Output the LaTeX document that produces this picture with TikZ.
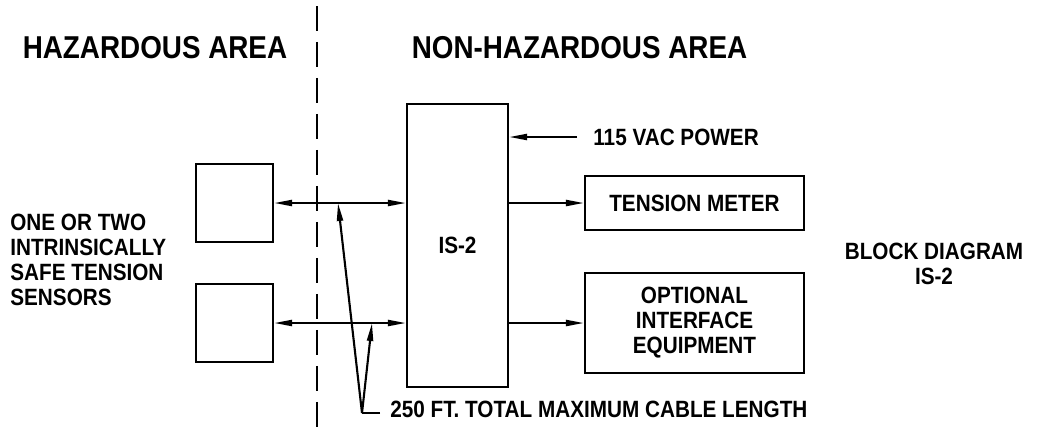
\documentclass[tikz,border=0pt]{standalone}
\usepackage{fontspec}
\setmainfont[FakeStretch=0.88]{Liberation Sans}
\usetikzlibrary{arrows.meta, positioning}

\begin{document}
\begin{tikzpicture}[x=0.02cm, y=-0.02cm,
  box/.style={draw, line width=1.2pt, inner sep=0pt, align=center,
              font=\bfseries\fontsize{13.4}{14.2}\selectfont},
  lbl/.style={inner sep=0pt, align=left,
              font=\bfseries\fontsize{13.4}{14.2}\selectfont},
  ttl/.style={inner sep=0pt, font=\bfseries\fontsize{18}{21}\selectfont},
  sig/.style={-{Triangle[length=0.36cm, width=0.12cm]}, line width=1.2pt},
  both/.style={{Triangle[length=0.36cm, width=0.12cm]}-{Triangle[length=0.36cm, width=0.12cm]},
               line width=1.2pt},
  lead/.style={line width=1.2pt},
]
  \useasboundingbox (0,0) rectangle (1040,427);

  % area boundary
  \coordinate (bndtop) at (317,6);
  \coordinate (bndbot) at (317,427);
  \draw[line width=1.6pt, dash pattern=on 0.5cm off 0.22cm] (bndtop) -- (bndbot);
  \node[ttl] (haz)    at (155,48)   {HAZARDOUS AREA};
  \node[ttl] (nonhaz) at (579.5,48) {NON-HAZARDOUS AREA};

  % blocks
  \node[box, minimum width=1.54cm, minimum height=1.56cm] (sensA) at (234.5,203) {};
  \node[box, minimum width=1.54cm, minimum height=1.56cm] (sensB) at (234.5,323) {};
  \node[box, minimum width=2.02cm, minimum height=5.66cm] (is2)   at (457.5,245.5) {IS-2};
  \node[box, minimum width=4.38cm, minimum height=1.08cm] (meter) at (694.5,203) {TENSION METER};
  \node[box, minimum width=4.38cm, minimum height=2.00cm] (iface) at (694.5,323)
       {OPTIONAL\\INTERFACE\\EQUIPMENT};

  % labels
  \node[lbl, anchor=west] (sensors) at (10,260)
       {ONE OR TWO\\INTRINSICALLY\\SAFE TENSION\\SENSORS};
  \node[lbl, anchor=west] (power) at (593,137) {115 VAC POWER};
  \node[lbl, align=center] (title) at (934,264) {BLOCK DIAGRAM\\IS-2};
  \node[lbl, anchor=west] (cable) at (390,409) {250 FT. TOTAL MAXIMUM CABLE LENGTH};

  % connections
  \draw[both] (sensA.east) -- (is2.west |- sensA.east);
  \draw[both] (sensB.east) -- (is2.west |- sensB.east);
  \draw[sig]  ([xshift=-0.32cm]power.west) -- (is2.east |- power.west);
  \draw[sig]  (is2.east |- meter.west) -- (meter.west);
  \draw[sig]  (is2.east |- iface.west) -- (iface.west);

  % cable length leader
  \coordinate (apex) at (362,413);
  \coordinate (tapA) at (338,203);
  \coordinate (tapB) at (372,323);
  \draw[lead] ([xshift=-0.2cm]cable.west |- apex) -- (apex);
  \draw[sig]  (apex) -- (tapA);
  \draw[sig]  (apex) -- (tapB);
\end{tikzpicture}
\end{document}
